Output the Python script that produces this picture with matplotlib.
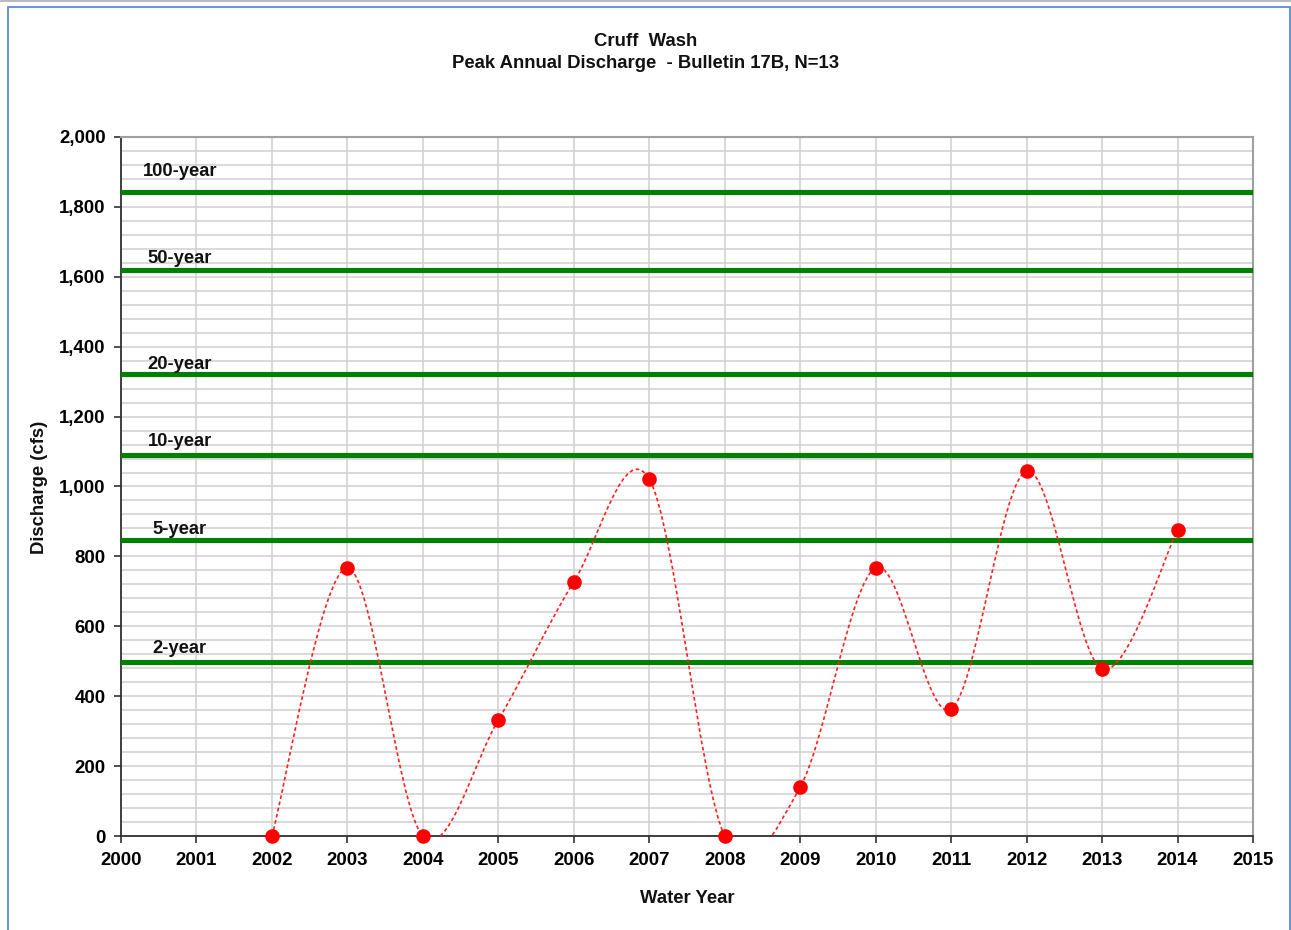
import matplotlib
matplotlib.use("Agg")
import matplotlib.pyplot as plt
from matplotlib.path import Path
from matplotlib.patches import PathPatch, Rectangle
from matplotlib.ticker import MultipleLocator, FuncFormatter
import numpy as np

# ---- data ----
years = [2002, 2003, 2004, 2005, 2006, 2007, 2008, 2009, 2010, 2011, 2012, 2013, 2014]
peaks = [0, 767, 0, 332, 727, 1021, 0, 140, 767, 363, 1044, 478, 875]
freq_labels = ["100-year", "50-year", "20-year", "10-year", "5-year", "2-year"]
freq_values = [1843, 1619, 1322, 1090, 847, 498]
freq_label_offsets = [20, 12, 9, 14, 10, 13]  # pixel offset of label above line

W, H = 1291, 930
fig = plt.figure(figsize=(W / 100, H / 100), dpi=100)
plt.rcParams['font.family'] = ['Liberation Sans', 'DejaVu Sans']

# figure border
fig.patches.append(Rectangle((8 / W, -0.01), (1290 - 8) / W, (H - 7) / H + 0.01,
                             transform=fig.transFigure, fill=False,
                             edgecolor='#5B8BD0', linewidth=1.3))
fig.lines.append(plt.Line2D([0, 1], [1 - 0.8 / H, 1 - 0.8 / H], transform=fig.transFigure,
                            color='#BBBBBB', linewidth=1.5))

ax = fig.add_axes([121 / W, (H - 836) / H, (1253 - 121) / W, (836 - 137) / H])
ax.set_xlim(2000, 2015)
ax.set_ylim(0, 2000)

ax.xaxis.set_major_locator(MultipleLocator(1))
ax.yaxis.set_major_locator(MultipleLocator(200))
ax.yaxis.set_minor_locator(MultipleLocator(40))
ax.yaxis.set_major_formatter(FuncFormatter(lambda v, p: f"{int(v):,}"))
ax.xaxis.set_major_formatter(FuncFormatter(lambda v, p: f"{int(v)}"))

ax.grid(True, which='major', axis='both', color='#CFCFCF', linewidth=1.1)
ax.grid(True, which='minor', axis='y', color='#CFCFCF', linewidth=1.1)
ax.set_axisbelow(True)

for s in ['top', 'right']:
    ax.spines[s].set_color('#A0A0A0')
    ax.spines[s].set_linewidth(1.5)
for s in ['left', 'bottom']:
    ax.spines[s].set_color('#303030')
    ax.spines[s].set_linewidth(1.3)

ax.tick_params(axis='both', which='major', direction='out', length=5, width=1.2,
               color='#303030', labelsize=13.4)
ax.tick_params(axis='x', which='major', pad=6.5)
ax.tick_params(axis='y', which='major', pad=6)
ax.tick_params(axis='y', which='minor', length=0)
for lab in ax.get_xticklabels() + ax.get_yticklabels():
    lab.set_fontweight('bold')

# frequency lines
for lbl, val, off in zip(freq_labels, freq_values, freq_label_offsets):
    ax.axhline(val, color='#008000', linewidth=3.7, zorder=3)
    ax.annotate(lbl, xy=(2000.78, val), xytext=(0, off), textcoords='offset pixels',
                ha='center', va='center', fontsize=13.2, fontweight='bold',
                color='#111111', zorder=4)

# smoothed line (Excel-style Bezier smoothing)
pts = np.column_stack([years, peaks]).astype(float)
n = len(pts)
verts = [tuple(pts[0])]
codes = [Path.MOVETO]
for i in range(n - 1):
    p0 = pts[i - 1] if i > 0 else pts[i]
    p1 = pts[i]
    p2 = pts[i + 1]
    p3 = pts[i + 2] if i + 2 < n else pts[i + 1]
    c1 = p1 + (p2 - p0) / 6.0
    c2 = p2 - (p3 - p1) / 6.0
    verts += [tuple(c1), tuple(c2), tuple(p2)]
    codes += [Path.CURVE4] * 3
patch = PathPatch(Path(verts, codes), fill=False, edgecolor='#FF2020',
                  linewidth=1.2, linestyle=(0, (2.2, 1.6)), zorder=5)
ax.add_patch(patch)

ax.plot(years, peaks, linestyle='none', marker='o', markersize=9.5,
        color='#FF0000', markeredgecolor='#FF0000', zorder=6, clip_on=False)

fig.text(646 / W, 1 - 41 / H, "Cruff  Wash", ha='center', va='center',
         fontsize=13.3, fontweight='bold', color='#111111')
fig.text(646 / W, 1 - 63 / H, "Peak Annual Discharge  - Bulletin 17B, N=13", ha='center',
         va='center', fontsize=13.3, fontweight='bold', color='#111111')
fig.text(687 / W, 1 - 898 / H, "Water Year", ha='center', va='center',
         fontsize=13.3, fontweight='bold', color='#111111')
fig.text(40 / W, 1 - 487 / H, "Discharge (cfs)", ha='center', va='center',
         rotation=90, fontsize=13.3, fontweight='bold', color='#111111')

fig.savefig("out.png", dpi=100, facecolor='white')
